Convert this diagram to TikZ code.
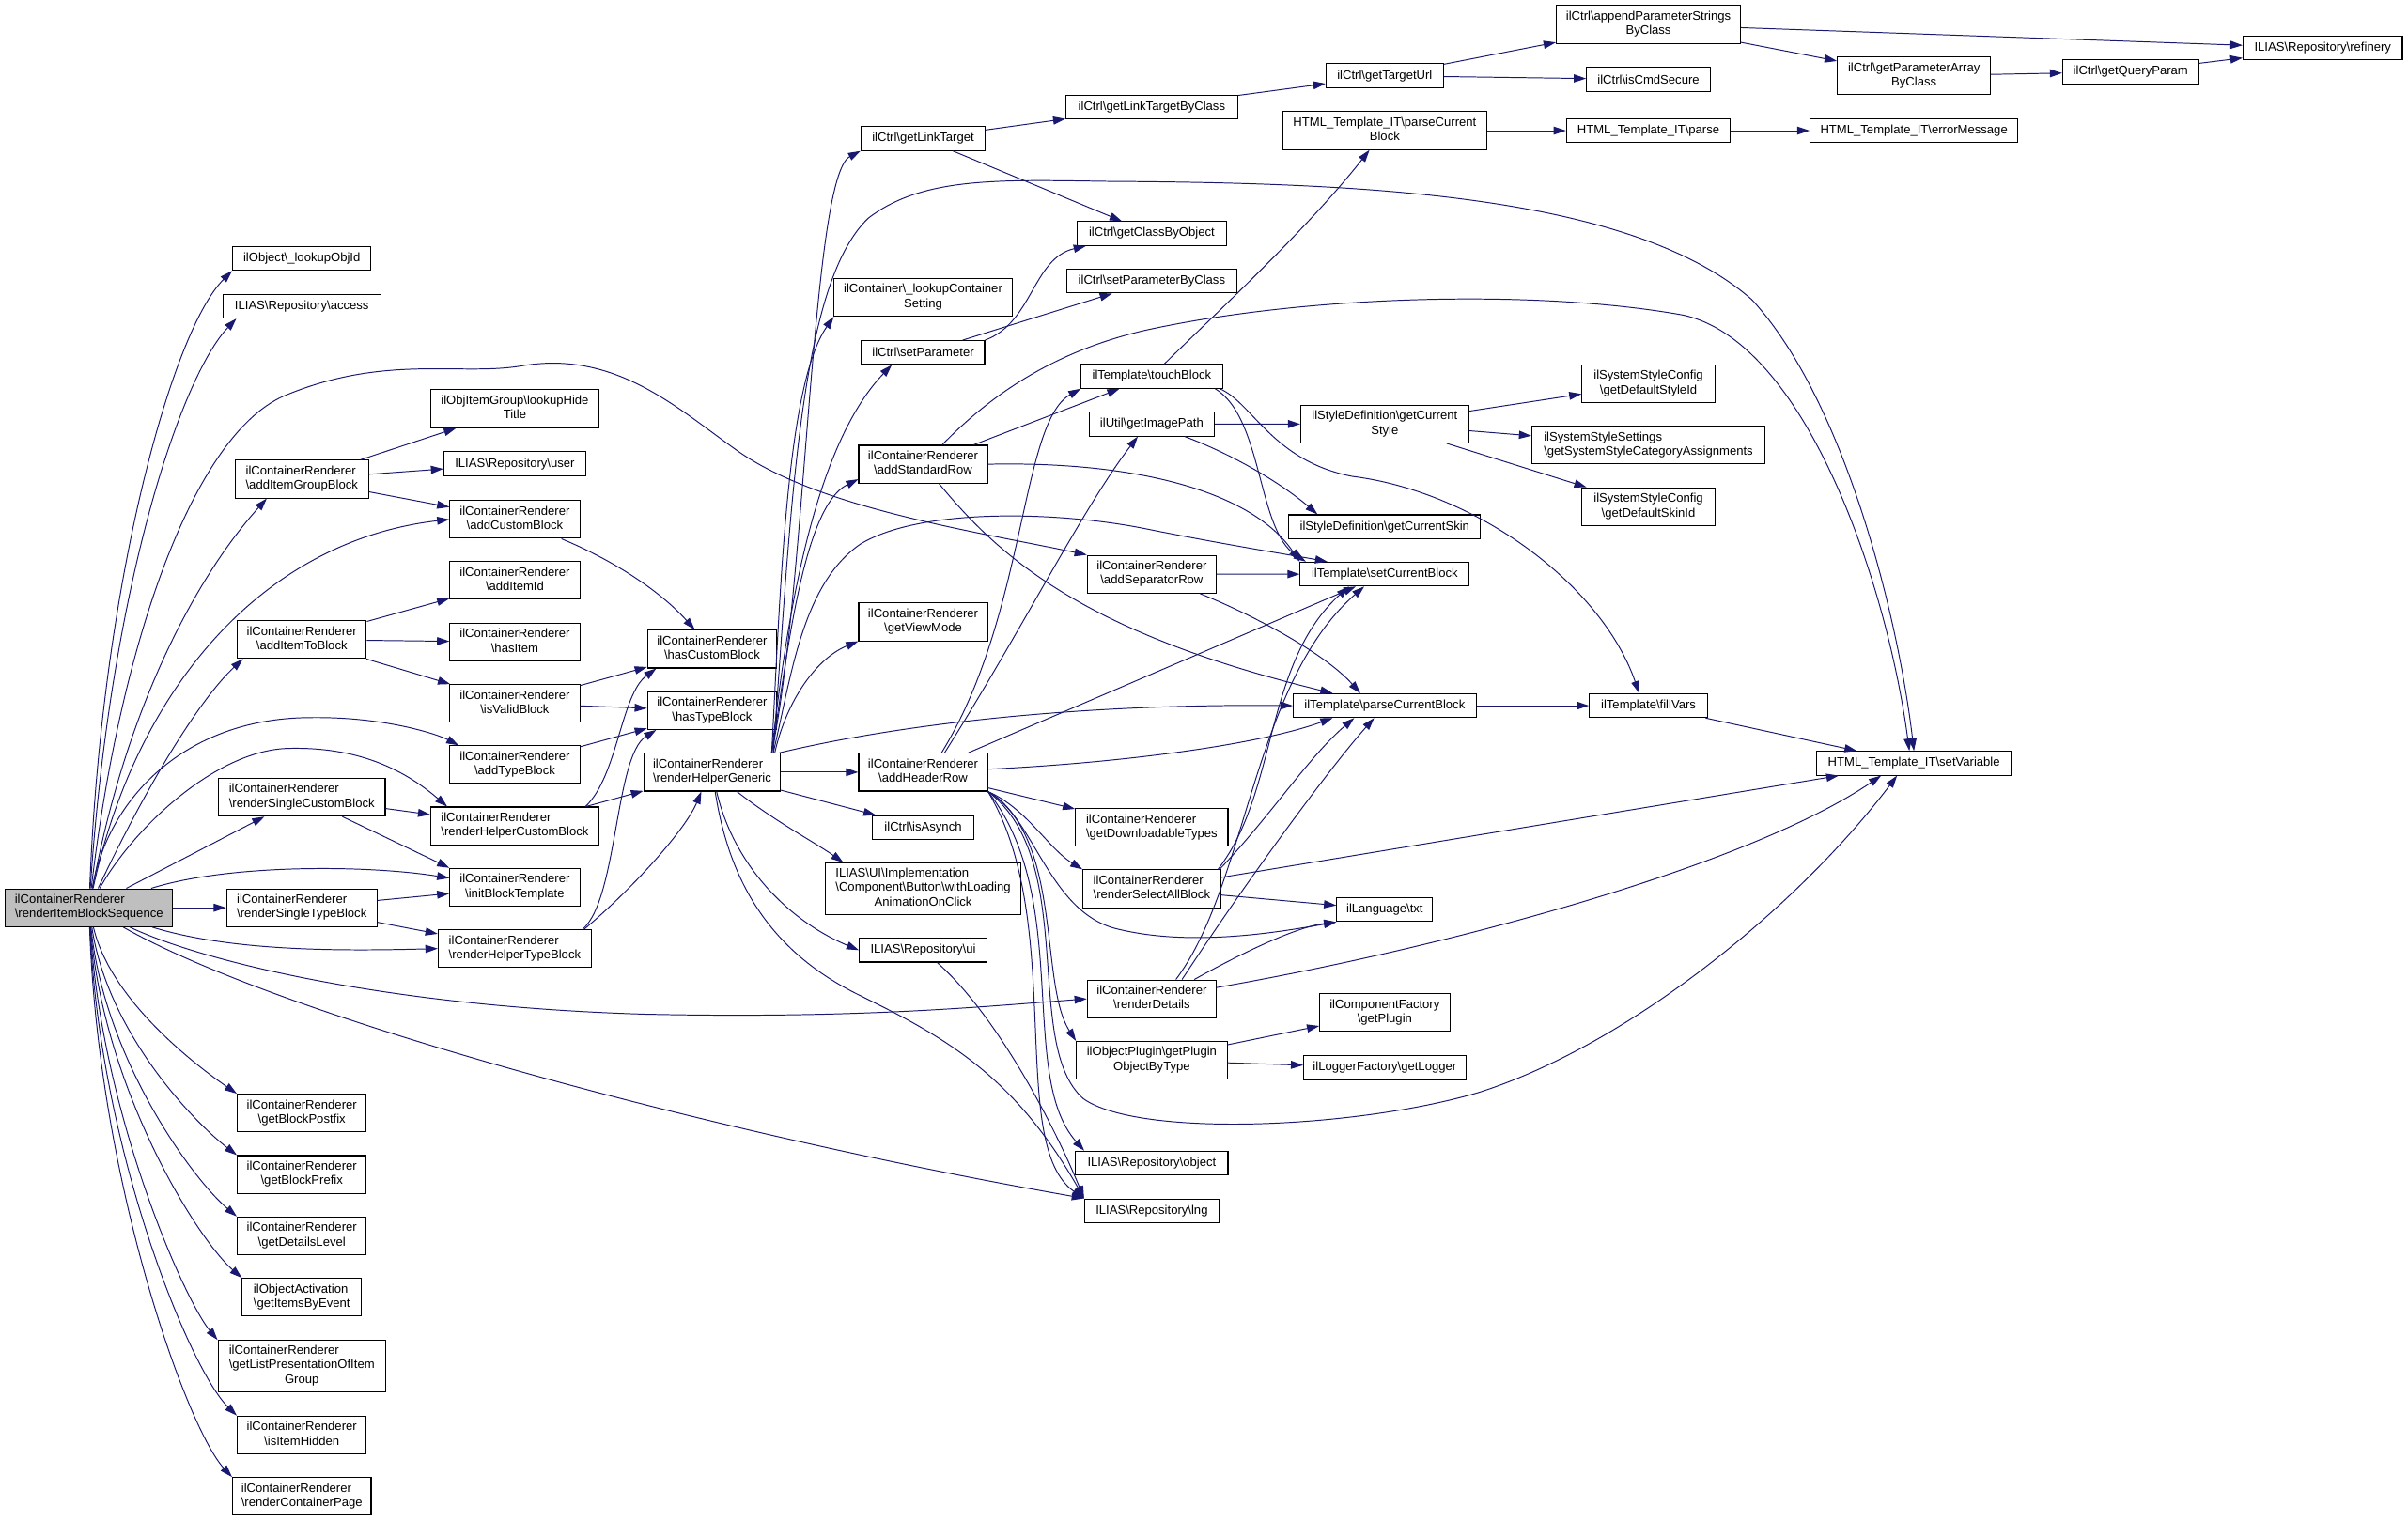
\documentclass[tikz,border=0pt]{standalone}
\usepackage{fontspec}
\setmainfont{Liberation Sans}
\usetikzlibrary{arrows.meta}

\definecolor{edgeblue}{HTML}{191970}
\definecolor{rootgray}{HTML}{BFBFBF}
\newcommand{\bsl}{\textbackslash}
\newcommand{\twoline}[2]{\begin{tabular}{@{}l@{}}#1\\\multicolumn{1}{@{}c@{}}{#2}\end{tabular}}
\newcommand{\crfunc}[1]{\twoline{ilContainerRenderer}{\bsl #1}}

\begin{document}
\begin{tikzpicture}[
    x=1pt, y=-1pt,
    func_style/.style={draw=black, line width=0.65pt, fill=white, inner sep=0pt, font=\fontsize{8}{9.4}\selectfont},
    one_line/.style={func_style, minimum height=15.5pt},
    two_line/.style={func_style, minimum height=24.6pt},
    three_line/.style={func_style, minimum height=33.4pt},
    root_style/.style={two_line, fill=rootgray},
    call_style/.style={-{Triangle[length=8pt, width=5.2pt]}, edgeblue, line width=0.6pt}
]

    \path[use as bounding box, fill=white] (0,0) rectangle (1567,990);

    % Caller
    \node[root_style, minimum width=109pt] (root) at (57.9,590.7) {\crfunc{renderItemBlockSequence}};

    % First column of callees
    \node[one_line, minimum width=90pt] (lookup_obj_id) at (196.4,168.2) {ilObject\bsl\_lookupObjId};
    \node[one_line, minimum width=102.6pt] (repo_access) at (196.4,199.3) {ILIAS\bsl Repository\bsl access};
    \node[two_line, minimum width=87pt] (add_item_group_block) at (196.4,311.8) {\crfunc{addItemGroupBlock}};
    \node[two_line, minimum width=84pt] (add_item_to_block) at (196.4,416.2) {\crfunc{addItemToBlock}};
    \node[two_line, minimum width=108.5pt] (render_single_custom_block) at (196.4,518.8) {\crfunc{renderSingleCustomBlock}};
    \node[two_line, minimum width=98pt] (render_single_type_block) at (196.4,590.7) {\crfunc{renderSingleTypeBlock}};
    \node[two_line, minimum width=84pt] (get_block_postfix) at (196.4,724.3) {\crfunc{getBlockPostfix}};
    \node[two_line, minimum width=84pt] (get_block_prefix) at (196.4,764.3) {\crfunc{getBlockPrefix}};
    \node[two_line, minimum width=84pt] (get_details_level) at (196.4,804.2) {\crfunc{getDetailsLevel}};
    \node[two_line, minimum width=77.4pt] (get_items_by_event) at (196.4,844.2) {\twoline{ilObjectActivation}{\bsl getItemsByEvent}};
    \node[three_line, minimum width=109pt, minimum height=33.2pt] (get_list_presentation) at (196.4,888.9) {\twoline{ilContainerRenderer\\\bsl getListPresentationOfItem}{Group}};
    \node[two_line, minimum width=84pt] (is_item_hidden) at (196.4,933.8) {\crfunc{isItemHidden}};
    \node[two_line, minimum width=90.2pt] (render_container_page) at (196.4,973.8) {\crfunc{renderContainerPage}};

    % Second column
    \node[two_line, minimum width=109.3pt] (lookup_hide_title) at (335,266) {\twoline{ilObjItemGroup\bsl lookupHide}{Title}};
    \node[one_line, minimum width=92.5pt] (repo_user) at (335,301.8) {ILIAS\bsl Repository\bsl user};
    \node[two_line, minimum width=84.5pt] (add_custom_block) at (335,338) {\crfunc{addCustomBlock}};
    \node[two_line, minimum width=84.5pt] (add_item_id) at (335,377.7) {\crfunc{addItemId}};
    \node[two_line, minimum width=84.5pt] (has_item) at (335,417.8) {\crfunc{hasItem}};
    \node[two_line, minimum width=84.5pt] (is_valid_block) at (335,457.8) {\crfunc{isValidBlock}};
    \node[two_line, minimum width=84.5pt] (add_type_block) at (335,497.6) {\crfunc{addTypeBlock}};
    \node[two_line, minimum width=109.3pt] (render_helper_custom_block) at (335,537.5) {\crfunc{renderHelperCustomBlock}};
    \node[two_line, minimum width=84.5pt] (init_block_template) at (335,577.4) {\crfunc{initBlockTemplate}};
    \node[two_line, minimum width=99.7pt] (render_helper_type_block) at (335,617.3) {\crfunc{renderHelperTypeBlock}};

    % Third column
    \node[two_line, minimum width=84.1pt] (has_custom_block) at (463.4,422.4) {\crfunc{hasCustomBlock}};
    \node[two_line, minimum width=84.1pt] (has_type_block) at (463.4,462.4) {\crfunc{hasTypeBlock}};
    \node[two_line, minimum width=88.9pt] (render_helper_generic) at (463.4,502.5) {\crfunc{renderHelperGeneric}};

    % Fourth column
    \node[one_line, minimum width=80.9pt] (get_link_target) at (600.7,90.2) {ilCtrl\bsl getLinkTarget};
    \node[two_line, minimum width=115.7pt] (lookup_container_setting) at (600.7,193.5) {\twoline{ilContainer\bsl\_lookupContainer}{Setting}};
    \node[one_line, minimum width=80.1pt] (set_parameter) at (600.7,229.4) {ilCtrl\bsl setParameter};
    \node[two_line, minimum width=83.8pt] (add_standard_row) at (600.7,302.1) {\crfunc{addStandardRow}};
    \node[two_line, minimum width=83.8pt] (get_view_mode) at (600.7,404.7) {\crfunc{getViewMode}};
    \node[two_line, minimum width=83.8pt] (add_header_row) at (600.7,502.5) {\crfunc{addHeaderRow}};
    \node[one_line, minimum width=65.5pt] (is_asynch) at (600.7,538.5) {ilCtrl\bsl isAsynch};
    \node[three_line, minimum width=127.2pt] (with_loading) at (600.7,578.3) {\twoline{ILIAS\bsl UI\bsl Implementation\\\bsl Component\bsl Button\bsl withLoading}{AnimationOnClick}};
    \node[one_line, minimum width=83.1pt] (repo_ui) at (600.7,618.3) {ILIAS\bsl Repository\bsl ui};

    % Fifth column
    \node[one_line, minimum width=111.7pt] (get_link_target_by_class) at (749.5,69.6) {ilCtrl\bsl getLinkTargetByClass};
    \node[one_line, minimum width=97pt] (get_class_by_object) at (749.5,152) {ilCtrl\bsl getClassByObject};
    \node[one_line, minimum width=111pt] (set_parameter_by_class) at (749.5,182.9) {ilCtrl\bsl setParameterByClass};
    \node[one_line, minimum width=91.9pt] (touch_block) at (749.5,244.9) {ilTemplate\bsl touchBlock};
    \node[one_line, minimum width=81.5pt] (get_image_path) at (749.5,276) {ilUtil\bsl getImagePath};
    \node[two_line, minimum width=83.9pt] (add_separator_row) at (749.5,373.7) {\crfunc{addSeparatorRow}};
    \node[two_line, minimum width=99.2pt] (get_downloadable_types) at (749.5,538.5) {\crfunc{getDownloadableTypes}};
    \node[two_line, minimum width=89.5pt] (render_select_all_block) at (749.5,578.4) {\crfunc{renderSelectAllBlock}};
    \node[two_line, minimum width=83.9pt] (render_details) at (749.5,650) {\crfunc{renderDetails}};
    \node[two_line, minimum width=98pt] (get_plugin_object_by_type) at (749.5,690) {\twoline{ilObjectPlugin\bsl getPlugin}{ObjectByType}};
    \node[one_line, minimum width=99.2pt] (repo_object) at (749.5,756.9) {ILIAS\bsl Repository\bsl object};
    \node[one_line, minimum width=87.5pt] (repo_lng) at (749.5,787.9) {ILIAS\bsl Repository\bsl lng};

    % Sixth column
    \node[one_line, minimum width=76.4pt] (get_target_url) at (901.1,49.3) {ilCtrl\bsl getTargetUrl};
    \node[two_line, minimum width=132.8pt] (html_parse_current_block) at (901.1,85) {\twoline{HTML\_Template\_IT\bsl parseCurrent}{Block}};
    \node[two_line, minimum width=109.3pt] (get_current_style) at (901.1,275.9) {\twoline{ilStyleDefinition\bsl getCurrent}{Style}};
    \node[one_line, minimum width=124.8pt] (get_current_skin) at (901.1,342.8) {ilStyleDefinition\bsl getCurrentSkin};
    \node[one_line, minimum width=110pt] (set_current_block) at (901.1,373.6) {ilTemplate\bsl setCurrentBlock};
    \node[one_line, minimum width=119.1pt] (parse_current_block) at (901.1,459.2) {ilTemplate\bsl parseCurrentBlock};
    \node[one_line, minimum width=62.4pt] (lang_txt) at (901.1,592) {ilLanguage\bsl txt};
    \node[two_line, minimum width=84.6pt] (get_plugin) at (901.1,658.9) {\twoline{ilComponentFactory}{\bsl getPlugin}};
    \node[one_line, minimum width=105.4pt] (get_logger) at (901.1,694.9) {ilLoggerFactory\bsl getLogger};

    % Seventh column
    \node[two_line, minimum width=119.8pt] (append_parameter_strings) at (1072.7,15.9) {\twoline{ilCtrl\bsl appendParameterStrings}{ByClass}};
    \node[one_line, minimum width=80.5pt] (is_cmd_secure) at (1072.7,51.7) {ilCtrl\bsl isCmdSecure};
    \node[one_line, minimum width=106.7pt] (html_parse) at (1072.7,85) {HTML\_Template\_IT\bsl parse};
    \node[two_line, minimum width=86.5pt] (get_default_style_id) at (1072.7,249.8) {\twoline{ilSystemStyleConfig}{\bsl getDefaultStyleId}};
    \node[two_line, minimum width=151.8pt] (get_style_category_assignments) at (1072.7,289.7) {\twoline{ilSystemStyleSettings}{\bsl getSystemStyleCategoryAssignments}};
    \node[two_line, minimum width=86.5pt] (get_default_skin_id) at (1072.7,329.7) {\twoline{ilSystemStyleConfig}{\bsl getDefaultSkinId}};
    \node[one_line, minimum width=76.8pt] (fill_vars) at (1072.7,459.2) {ilTemplate\bsl fillVars};

    % Right columns
    \node[two_line, minimum width=99.6pt] (get_parameter_array) at (1245.5,49.4) {\twoline{ilCtrl\bsl getParameterArray}{ByClass}};
    \node[one_line, minimum width=135.3pt] (html_error_message) at (1245.5,85) {HTML\_Template\_IT\bsl errorMessage};
    \node[one_line, minimum width=126.2pt] (html_set_variable) at (1245.5,496.7) {HTML\_Template\_IT\bsl setVariable};
    \node[one_line, minimum width=88.5pt] (get_query_param) at (1386.5,46.7) {ilCtrl\bsl getQueryParam};
    \node[one_line, minimum width=103.6pt] (repo_refinery) at (1511.5,31.3) {ILIAS\bsl Repository\bsl refinery};

    % Calls from renderItemBlockSequence, upwards
    \draw[call_style] (root) .. controls (66,380) and (112,215) .. (lookup_obj_id.south west);
    \draw[call_style] (root) .. controls (72,380) and (118,245) .. ([xshift=9pt]repo_access.south west);
    \draw[call_style] (root) .. controls (82,460) and (128,375) .. ([xshift=21pt]add_item_group_block.south west);
    \draw[call_style] (root) .. controls (88,450) and (170,352) .. (add_custom_block.west);
    \draw[call_style] (root) .. controls (96,510) and (130,455) .. ([xshift=4pt]add_item_to_block.south west);
    \draw[call_style] (root) .. controls (70,520) and (120,468) .. (200,467) .. controls (250,466) and (285,478) .. ([xshift=6pt]add_type_block.north west);
    \draw[call_style] (root) .. controls (86,540) and (140,488) .. (188,487) .. controls (232,486) and (262,500) .. ([xshift=11pt]render_helper_custom_block.north west);
    \draw[call_style] (root) .. controls (78,420) and (125,285) .. (184,258) .. controls (250,230) and (300,245) .. (340,238) .. controls (400,228) and (440,265) .. (478,292) .. controls (530,330) and (630,345) .. (add_separator_row.north west);

    % Calls from renderItemBlockSequence, sideways
    \draw[call_style] (root) -- (render_single_custom_block);
    \draw[call_style] (root) .. controls (150,562) and (240,563) .. (init_block_template.172);
    \draw[call_style] (root) -- (render_single_type_block);
    \draw[call_style] (root) .. controls (150,619) and (220,619) .. (render_helper_type_block.west);
    \draw[call_style] (root) .. controls (130,625) and (250,655) .. (420,660) .. controls (560,663) and (640,655) .. (render_details.west);
    \draw[call_style] (root) .. controls (180,660) and (450,735) .. (repo_lng.north west);

    % Calls from renderItemBlockSequence, downwards
    \draw[call_style] (root) .. controls (72,652) and (130,695) .. (get_block_postfix.north west);
    \draw[call_style] (root) .. controls (70,672) and (126,730) .. (get_block_prefix.north west);
    \draw[call_style] (root) .. controls (68,690) and (126,768) .. (get_details_level.north west);
    \draw[call_style] (root) .. controls (67,708) and (128,806) .. (get_items_by_event.north west);
    \draw[call_style] (root) .. controls (66,725) and (120,846) .. (get_list_presentation.north west);
    \draw[call_style] (root) .. controls (65,750) and (124,892) .. (is_item_hidden.north west);
    \draw[call_style] (root) .. controls (64,770) and (122,930) .. (render_container_page.north west);

    % Block helpers
    \draw[call_style] (add_item_group_block) -- (lookup_hide_title);
    \draw[call_style] (add_item_group_block) -- (repo_user);
    \draw[call_style] (add_item_group_block) -- (add_custom_block);
    \draw[call_style] (add_custom_block) .. controls (400,365) and (430,385) .. (has_custom_block);
    \draw[call_style] (add_item_to_block) -- (add_item_id);
    \draw[call_style] (add_item_to_block) -- (has_item);
    \draw[call_style] (add_item_to_block) -- (is_valid_block);
    \draw[call_style] (is_valid_block) -- (has_custom_block);
    \draw[call_style] (is_valid_block) -- (has_type_block);
    \draw[call_style] (add_type_block) -- (has_type_block);
    \draw[call_style] (render_single_custom_block) -- (render_helper_custom_block);
    \draw[call_style] (render_single_custom_block) -- (init_block_template.north west);
    \draw[call_style] (render_single_type_block) -- (init_block_template);
    \draw[call_style] (render_single_type_block) -- (render_helper_type_block);
    \draw[call_style] ([xshift=-9pt]render_helper_custom_block.north east) .. controls (402,505) and (404,452) .. ([xshift=6pt]has_custom_block.south west);
    \draw[call_style] (render_helper_custom_block) -- (render_helper_generic);
    \draw[call_style] ([xshift=-6pt]render_helper_type_block.north east) .. controls (402,585) and (400,492) .. ([xshift=6pt]has_type_block.south west);
    \draw[call_style] ([xshift=-5pt]render_helper_type_block.north east) .. controls (412,578) and (446,540) .. ([xshift=-7pt]render_helper_generic.south);

    % Calls from renderHelperGeneric
    \draw[call_style] ([xshift=-6pt]render_helper_generic.north east) .. controls (525,380) and (528,115) .. (get_link_target.south west);
    \draw[call_style] ([xshift=-5pt]render_helper_generic.north east) .. controls (515,330) and (520,185) .. (565,142) .. controls (600,115) and (650,117) .. (720,118) .. controls (880,119) and (1060,125) .. (1140,195) .. controls (1200,260) and (1235,400) .. (html_set_variable.north);
    \draw[call_style] ([xshift=-6pt]render_helper_generic.north east) .. controls (508,380) and (512,250) .. (lookup_container_setting.south west);
    \draw[call_style] ([xshift=-6pt]render_helper_generic.north east) .. controls (512,400) and (530,290) .. ([xshift=20pt]set_parameter.south west);
    \draw[call_style] ([xshift=-6pt]render_helper_generic.north east) .. controls (512,430) and (522,330) .. (add_standard_row.193);
    \draw[call_style] ([xshift=-5pt]render_helper_generic.north east) .. controls (515,440) and (522,380) .. (560,354) .. controls (600,330) and (690,333) .. (745,344) .. controls (800,355) and (845,362) .. ([xshift=18pt]set_current_block.north west);
    \draw[call_style] ([xshift=-4pt]render_helper_generic.north east) .. controls (512,455) and (532,428) .. (get_view_mode.south west);
    \draw[call_style] ([xshift=-1pt]render_helper_generic.north east) .. controls (600,468) and (720,458) .. (parse_current_block.west);
    \draw[call_style] (render_helper_generic) -- (add_header_row);
    \draw[call_style] (render_helper_generic) -- (is_asynch);
    \draw[call_style] (render_helper_generic) .. controls (505,535) and (530,548) .. ([xshift=12pt]with_loading.north west);
    \draw[call_style] (render_helper_generic) .. controls (478,565) and (515,600) .. (repo_ui.west);
    \draw[call_style] (render_helper_generic) .. controls (474,570) and (498,618) .. (560,648) .. controls (615,675) and (660,700) .. (repo_lng.north west);
    \draw[call_style] (repo_ui) .. controls (648,660) and (685,730) .. (repo_lng.north west);

    % Rows
    \draw[call_style] (add_standard_row) -- (touch_block);
    \draw[call_style] (add_standard_row.east) .. controls (740,300) and (815,320) .. (set_current_block.north west);
    \draw[call_style] (add_standard_row) .. controls (650,362) and (705,412) .. ([xshift=26pt]parse_current_block.north west);
    \draw[call_style] (add_standard_row) .. controls (640,262) and (680,230) .. (745,215) .. controls (850,192) and (1000,188) .. (1095,205) .. controls (1175,222) and (1228,380) .. ([xshift=-3pt]html_set_variable.north);
    \draw[call_style] (add_separator_row) -- (set_current_block);
    \draw[call_style] (add_separator_row) .. controls (815,400) and (862,425) .. ([xshift=44pt]parse_current_block.north west);
    \draw[call_style] ([xshift=12pt]add_header_row.north) .. controls (668,400) and (664,275) .. (touch_block.south west);
    \draw[call_style] ([xshift=14pt]add_header_row.north) .. controls (665,410) and (705,330) .. ([xshift=32pt]get_image_path.south west);
    \draw[call_style] (add_header_row) -- (set_current_block);
    \draw[call_style] (add_header_row) .. controls (720,497) and (815,486) .. ([xshift=26pt]parse_current_block.south west);
    \draw[call_style] (add_header_row) -- (get_downloadable_types);
    \draw[call_style] (add_header_row.south east) .. controls (668,526) and (682,552) .. (render_select_all_block.north west);
    \draw[call_style] (add_header_row.south east) .. controls (672,530) and (682,592) .. (725,604) .. controls (775,617) and (835,606) .. (lang_txt.south west);
    \draw[call_style] (add_header_row.south east) .. controls (692,545) and (676,640) .. (get_plugin_object_by_type.north west);
    \draw[call_style] (add_header_row.south east) .. controls (698,585) and (662,700) .. ([xshift=6pt]repo_object.north west);
    \draw[call_style] (add_header_row.south east) .. controls (694,600) and (655,745) .. (repo_lng.north west);
    \draw[call_style] (add_header_row.south east) .. controls (702,560) and (665,680) .. (705,715) .. controls (740,740) and (880,735) .. (962,711) .. controls (1060,680) and (1170,590) .. ([xshift=-11pt]html_set_variable.south);

    % Select all and details
    \draw[call_style] ([xshift=-2pt]render_select_all_block.north east) .. controls (832,515) and (822,432) .. ([xshift=32pt]set_current_block.south west);
    \draw[call_style] ([xshift=-1pt]render_select_all_block.north east) .. controls (826,532) and (852,492) .. ([xshift=40pt]parse_current_block.south west);
    \draw[call_style] (render_select_all_block) -- (lang_txt);
    \draw[call_style] (render_select_all_block) -- (html_set_variable);
    \draw[call_style] ([xshift=58pt]render_details.north west) .. controls (812,575) and (815,445) .. ([xshift=42pt]set_current_block.south west);
    \draw[call_style] ([xshift=62pt]render_details.north west) .. controls (810,575) and (865,500) .. ([xshift=53pt]parse_current_block.south west);
    \draw[call_style] ([xshift=70pt]render_details.north west) .. controls (812,618) and (845,603) .. (lang_txt.south west);
    \draw[call_style] (render_details) .. controls (950,615) and (1140,562) .. ([xshift=42pt]html_set_variable.south west);
    \draw[call_style] (get_plugin_object_by_type) -- (get_plugin);
    \draw[call_style] (get_plugin_object_by_type) -- (get_logger);

    % Template and style calls
    \draw[call_style] (touch_block) .. controls (790,205) and (850,150) .. (html_parse_current_block);
    \draw[call_style] ([xshift=-5pt]touch_block.south east) .. controls (822,272) and (818,345) .. ([xshift=4pt]set_current_block.north west);
    \draw[call_style] ([xshift=-2pt]touch_block.south east) .. controls (815,262) and (828,300) .. (880,310) .. controls (960,320) and (1042,380) .. ([xshift=-6pt]fill_vars.north);
    \draw[call_style] (get_image_path) -- (get_current_style);
    \draw[call_style] (get_image_path) .. controls (808,298) and (838,318) .. ([xshift=19pt]get_current_skin.north west);
    \draw[call_style] (get_current_style) -- (get_default_style_id);
    \draw[call_style] (get_current_style) -- (get_style_category_assignments);
    \draw[call_style] (get_current_style) -- (get_default_skin_id);
    \draw[call_style] (parse_current_block) -- (fill_vars);
    \draw[call_style] (fill_vars) -- (html_set_variable);
    \draw[call_style] (html_parse_current_block) -- (html_parse);
    \draw[call_style] (html_parse) -- (html_error_message);

    % Controller calls
    \draw[call_style] (get_link_target) -- (get_link_target_by_class);
    \draw[call_style] (get_link_target) -- (get_class_by_object);
    \draw[call_style] (set_parameter.north east) .. controls (672,210) and (672,168) .. ([xshift=6pt]get_class_by_object.south west);
    \draw[call_style] (set_parameter) -- (set_parameter_by_class);
    \draw[call_style] (get_link_target_by_class) -- (get_target_url);
    \draw[call_style] (get_target_url) -- (append_parameter_strings);
    \draw[call_style] (get_target_url) -- (is_cmd_secure);
    \draw[call_style] (append_parameter_strings) -- (repo_refinery);
    \draw[call_style] (append_parameter_strings) -- (get_parameter_array);
    \draw[call_style] (get_parameter_array) -- (get_query_param);
    \draw[call_style] (get_query_param) -- (repo_refinery);

\end{tikzpicture}
\end{document}
